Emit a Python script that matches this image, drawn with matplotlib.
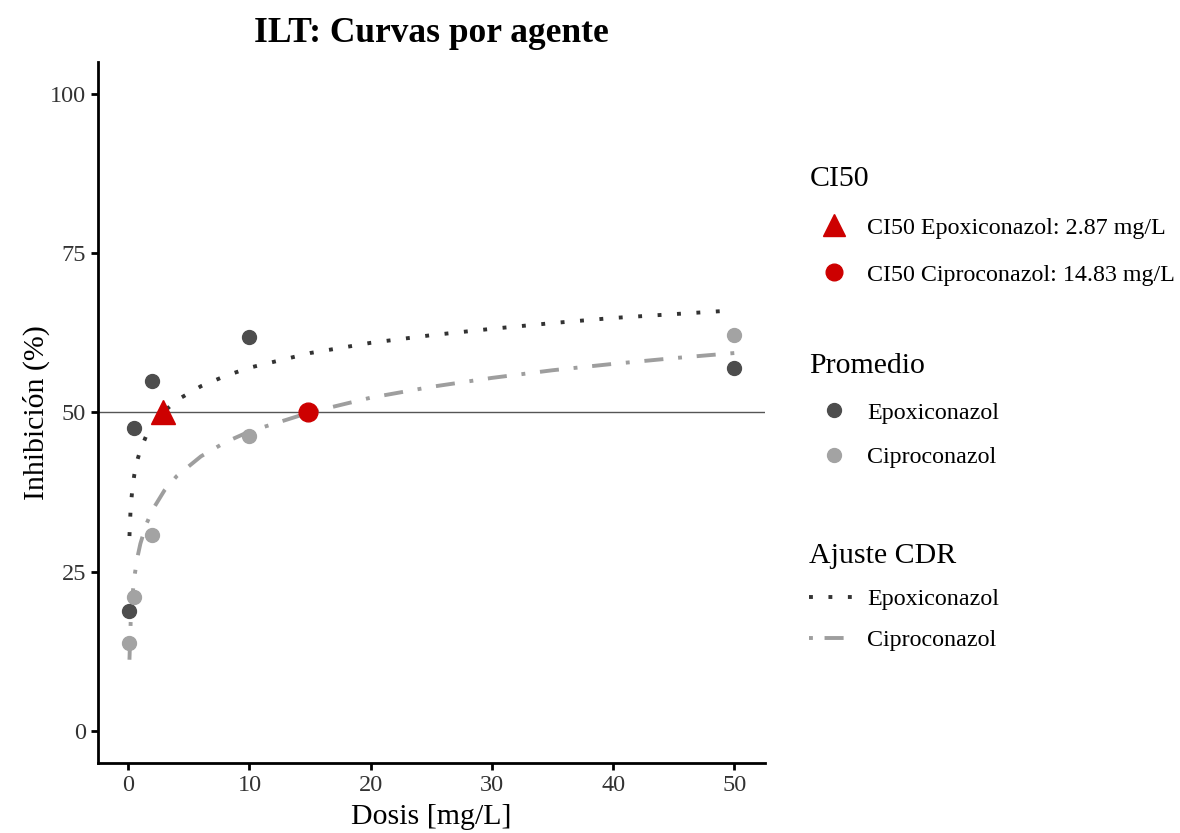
import numpy as np
import matplotlib.pyplot as plt
from matplotlib.lines import Line2D

plt.rcParams['font.family'] = ['Liberation Serif', 'DejaVu Serif']

# mean inhibition per dose
dosis = [0.1, 0.5, 2, 10, 50]
epoxi_prom = [18.8, 47.5, 54.9, 61.8, 56.9]
cipro_prom = [13.9, 21.0, 30.8, 46.3, 62.2]

# fitted dose-response curves
dosis_ajuste = [0.1, 0.2, 0.35, 0.5, 0.75, 1, 1.5, 2, 3, 4, 6, 8, 10,
                15, 20, 25, 30, 35, 40, 45, 50]
epoxi_ajuste = [30.6, 35.1, 38.2, 40.2, 42.5, 44.1, 46.4, 48.0, 50.2, 51.9,
                54.1, 55.7, 57.0, 59.3, 60.9, 62.1, 63.1, 64.0, 64.8, 65.4, 66.0]
cipro_ajuste = [11.2, 17.1, 21.3, 24.1, 27.2, 29.4, 32.5, 34.7, 37.8, 40.0,
                43.1, 45.3, 47.0, 50.0, 52.3, 54.0, 55.4, 56.6, 57.6, 58.5, 59.3]

ci50_epoxi = 2.87
ci50_cipro = 14.83

dark = '#4d4d4d'
light = '#a3a3a3'
red = '#cd0000'

fig = plt.figure(figsize=(11.8, 8.33), dpi=100)
ax = fig.add_axes([0.083, 0.084, 0.565, 0.842])

ax.axhline(50, color='#555555', lw=1.0, zorder=1)

l1, = ax.plot(dosis_ajuste, epoxi_ajuste, color='#333333', lw=2.8,
              linestyle=(0, (1, 4)), zorder=2)
l2, = ax.plot(dosis_ajuste, cipro_ajuste, color='#9e9e9e', lw=2.8,
              linestyle=(0, (4.9, 3.8, 1, 3.8)), zorder=2)

p1, = ax.plot(dosis, epoxi_prom, 'o', color=dark, ms=10, ls='none', zorder=3)
p2, = ax.plot(dosis, cipro_prom, 'o', color=light, ms=10, ls='none', zorder=3)

t1, = ax.plot([ci50_epoxi], [50], '^', color=red, ms=17, ls='none', zorder=4)
t2, = ax.plot([ci50_cipro], [50], 'o', color=red, ms=13.5, ls='none', zorder=4)

ax.set_xlim(-2.5, 52.5)
ax.set_ylim(-5, 105)
ax.set_xticks([0, 10, 20, 30, 40, 50])
ax.set_yticks([0, 25, 50, 75, 100])
for s in ['top', 'right']:
    ax.spines[s].set_visible(False)
for s in ['left', 'bottom']:
    ax.spines[s].set_linewidth(2.0)
ax.tick_params(width=2.0, length=5, labelsize=17.5, colors='black', labelcolor='#333333')
ax.set_xlabel('Dosis [mg/L]', fontsize=21.5, labelpad=6)
ax.set_ylabel('Inhibición (%)', fontsize=21.5, labelpad=0)
ax.set_title('ILT: Curvas por agente', fontsize=25.5, fontweight='bold', pad=14)

leg_kw = dict(frameon=False, loc='upper left', fontsize=17.3, title_fontsize=21.5,
              handlelength=2.0, handletextpad=0.4,
              alignment='left', borderaxespad=0, borderpad=0)

lg1 = fig.legend([Line2D([], [], marker='^', color=red, ms=16, ls='none'),
                  Line2D([], [], marker='o', color=red, ms=12, ls='none')],
                 ['CI50 Epoxiconazol: 2.87 mg/L',
                  'CI50 Ciproconazol: 14.83 mg/L'],
                 title='CI50', bbox_to_anchor=(0.686, 0.801), labelspacing=1.05,
                 **leg_kw)
lg2 = fig.legend([Line2D([], [], marker='o', color=dark, ms=10, ls='none'),
                  Line2D([], [], marker='o', color=light, ms=10, ls='none')],
                 ['Epoxiconazol', 'Ciproconazol'],
                 title='Promedio', bbox_to_anchor=(0.686, 0.576), labelspacing=0.95,
                 **leg_kw)
lg3 = fig.legend([Line2D([], [], color='#333333', lw=2.8, ls=(0, (1, 4))),
                  Line2D([], [], color='#9e9e9e', lw=2.8, ls=(0, (1, 3, 4.9, 3.8)))],
                 ['Epoxiconazol', 'Ciproconazol'],
                 title='Ajuste CDR', bbox_to_anchor=(0.686, 0.348), labelspacing=0.8,
                 **leg_kw)

fig.savefig('out.png', dpi=100)
